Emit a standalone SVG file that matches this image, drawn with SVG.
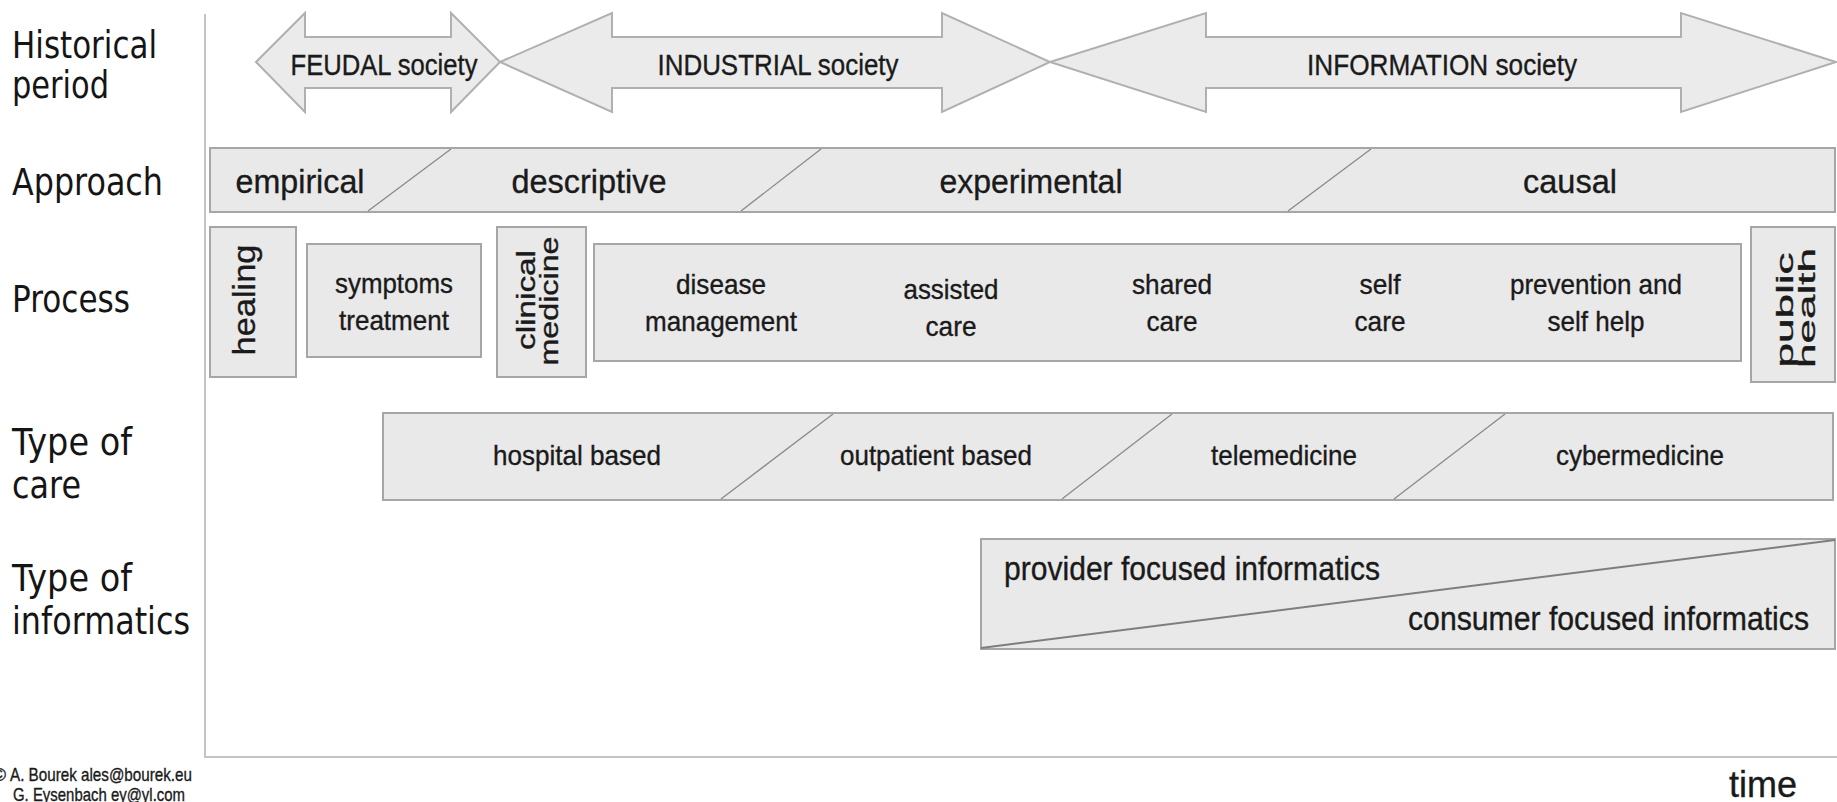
<svg xmlns="http://www.w3.org/2000/svg" width="1837" height="802" viewBox="0 0 1837 802">
<style>
.box{fill:#e9e9e9;stroke:#a6a6a6;stroke-width:2}
.arrow{fill:#ebebeb;stroke:#b0b0b0;stroke-width:2;stroke-linejoin:miter}
.div{stroke:#8a8a8a;stroke-width:1.3;fill:none}
.ax{stroke:#c4c4c4;stroke-width:2;fill:none}
.t{font-family:"Liberation Sans",Arial,sans-serif;fill:#1a1a1a;stroke:#1a1a1a;stroke-width:0.35}
.lbl{font-family:"DejaVu Sans",Verdana,sans-serif;font-size:37px;fill:#151515}
.ar{font-size:29px;text-anchor:middle}
.ap{font-size:34px;text-anchor:middle}
.pr{font-size:28px;text-anchor:middle}
.rt{text-anchor:middle}
</style>
<rect width="1837" height="802" fill="#ffffff"/>

<g id="axes">
<line class="ax" x1="205" y1="14" x2="205" y2="757"/>
<line class="ax" x1="204" y1="757" x2="1837" y2="757"/>
</g>

<g id="row-labels">
<text class="lbl" x="12" y="58" textLength="145" lengthAdjust="spacingAndGlyphs">Historical</text>
<text class="lbl" x="12" y="98" textLength="97" lengthAdjust="spacingAndGlyphs">period</text>
<text class="lbl" x="12" y="195" textLength="151" lengthAdjust="spacingAndGlyphs">Approach</text>
<text class="lbl" x="12" y="312" textLength="118" lengthAdjust="spacingAndGlyphs">Process</text>
<text class="lbl" x="12" y="455" textLength="120" lengthAdjust="spacingAndGlyphs">Type of</text>
<text class="lbl" x="12" y="498" textLength="69" lengthAdjust="spacingAndGlyphs">care</text>
<text class="lbl" x="12" y="591" textLength="120" lengthAdjust="spacingAndGlyphs">Type of</text>
<text class="lbl" x="12" y="634" textLength="178" lengthAdjust="spacingAndGlyphs">informatics</text>
</g>

<g id="feudal">
<polygon class="arrow" points="256,62 305,13 305,37 451,37 451,13 500,62 451,112 451,88 305,88 305,112"/>
<text class="t ar" x="384" y="75" textLength="187" lengthAdjust="spacingAndGlyphs">FEUDAL society</text>
</g>
<g id="industrial">
<polygon class="arrow" points="500,62 612,13 612,37 942,37 942,13 1050,62 942,112 942,88 612,88 612,112"/>
<text class="t ar" x="778" y="75" textLength="241" lengthAdjust="spacingAndGlyphs">INDUSTRIAL society</text>
</g>
<g id="information">
<polygon class="arrow" points="1050,62 1206,13 1206,37 1681,37 1681,13 1836,62 1681,112 1681,88 1206,88 1206,112"/>
<text class="t ar" x="1442" y="75" textLength="270" lengthAdjust="spacingAndGlyphs">INFORMATION society</text>
</g>

<g id="approach">
<rect class="box" x="210" y="148" width="1625" height="64"/>
<line class="div" x1="451" y1="149" x2="368" y2="211"/>
<line class="div" x1="821" y1="149" x2="741" y2="211"/>
<line class="div" x1="1371" y1="149" x2="1288" y2="211"/>
<text class="t ap" x="300" y="193" textLength="129" lengthAdjust="spacingAndGlyphs">empirical</text>
<text class="t ap" x="589" y="193" textLength="155" lengthAdjust="spacingAndGlyphs">descriptive</text>
<text class="t ap" x="1031" y="193" textLength="183" lengthAdjust="spacingAndGlyphs">experimental</text>
<text class="t ap" x="1570" y="193" textLength="94" lengthAdjust="spacingAndGlyphs">causal</text>
</g>

<g id="healing">
<rect class="box" x="210" y="227" width="86" height="150"/>
<text class="t rt" font-size="31" transform="translate(255,300) rotate(-90)" textLength="111" lengthAdjust="spacingAndGlyphs">healing</text>
</g>
<g id="symptoms-treatment">
<rect class="box" x="307" y="244" width="174" height="113"/>
<text class="t pr" x="394" y="293" textLength="118" lengthAdjust="spacingAndGlyphs">symptoms</text>
<text class="t pr" x="394" y="330" textLength="110" lengthAdjust="spacingAndGlyphs">treatment</text>
</g>
<g id="clinical-medicine">
<rect class="box" x="497" y="227" width="89" height="150"/>
<text class="t rt" font-size="25" transform="translate(535,300) rotate(-90)" textLength="100" lengthAdjust="spacingAndGlyphs">clinical</text>
<text class="t rt" font-size="25" transform="translate(558,301) rotate(-90)" textLength="129" lengthAdjust="spacingAndGlyphs">medicine</text>
</g>
<g id="care-process">
<rect class="box" x="594" y="244" width="1147" height="117"/>
<text class="t pr" x="721" y="294" textLength="90" lengthAdjust="spacingAndGlyphs">disease</text>
<text class="t pr" x="721" y="331" textLength="152" lengthAdjust="spacingAndGlyphs">management</text>
<text class="t pr" x="951" y="299" textLength="95" lengthAdjust="spacingAndGlyphs">assisted</text>
<text class="t pr" x="951" y="336" textLength="51" lengthAdjust="spacingAndGlyphs">care</text>
<text class="t pr" x="1172" y="294" textLength="80" lengthAdjust="spacingAndGlyphs">shared</text>
<text class="t pr" x="1172" y="331" textLength="51" lengthAdjust="spacingAndGlyphs">care</text>
<text class="t pr" x="1380" y="294" textLength="41" lengthAdjust="spacingAndGlyphs">self</text>
<text class="t pr" x="1380" y="331" textLength="51" lengthAdjust="spacingAndGlyphs">care</text>
<text class="t pr" x="1596" y="294" textLength="172" lengthAdjust="spacingAndGlyphs">prevention and</text>
<text class="t pr" x="1596" y="331" textLength="97" lengthAdjust="spacingAndGlyphs">self help</text>
</g>
<g id="public-health">
<rect class="box" x="1751" y="227" width="84" height="155"/>
<text class="t rt" font-size="24" transform="translate(1793,310) rotate(-90)" textLength="115" lengthAdjust="spacingAndGlyphs">public</text>
<text class="t rt" font-size="24" transform="translate(1815,308) rotate(-90)" textLength="120" lengthAdjust="spacingAndGlyphs">health</text>
</g>

<g id="type-of-care">
<rect class="box" x="383" y="413" width="1450" height="87"/>
<line class="div" x1="833" y1="414" x2="721" y2="499"/>
<line class="div" x1="1172" y1="414" x2="1062" y2="499"/>
<line class="div" x1="1505" y1="414" x2="1394" y2="499"/>
<text class="t pr" x="577" y="465" textLength="168" lengthAdjust="spacingAndGlyphs">hospital based</text>
<text class="t pr" x="936" y="465" textLength="192" lengthAdjust="spacingAndGlyphs">outpatient based</text>
<text class="t pr" x="1284" y="465" textLength="146" lengthAdjust="spacingAndGlyphs">telemedicine</text>
<text class="t pr" x="1640" y="465" textLength="168" lengthAdjust="spacingAndGlyphs">cybermedicine</text>
</g>

<g id="type-of-informatics">
<rect class="box" x="981" y="539" width="854" height="110"/>
<line x1="981" y1="648" x2="1835" y2="540" stroke="#7e7e7e" stroke-width="2"/>
<text class="t" font-size="33" x="1004" y="580" textLength="376" lengthAdjust="spacingAndGlyphs">provider focused informatics</text>
<text class="t" font-size="33" x="1408" y="630" textLength="401" lengthAdjust="spacingAndGlyphs">consumer focused informatics</text>
</g>

<g id="time-label">
<text class="t" font-size="36" x="1729" y="797" textLength="68" lengthAdjust="spacingAndGlyphs">time</text>
</g>

<g id="credits">
<text class="t" font-size="19" x="6" y="781" text-anchor="end">©</text>
<text class="t" font-size="19" x="10" y="781" textLength="182" lengthAdjust="spacingAndGlyphs">A. Bourek ales@bourek.eu</text>
<text class="t" font-size="19" x="13" y="801" textLength="172" lengthAdjust="spacingAndGlyphs">G. Eysenbach ey@yl.com</text>
</g>
<g id="connectors"/>
</svg>
